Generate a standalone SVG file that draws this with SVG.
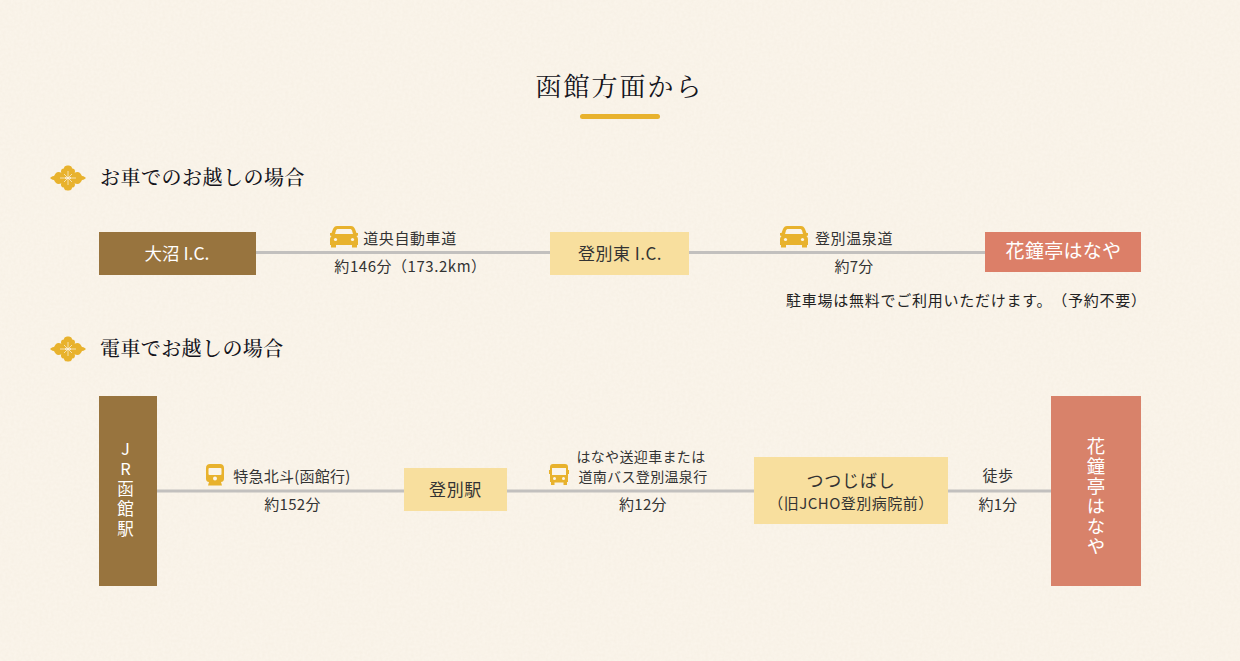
<svg xmlns="http://www.w3.org/2000/svg" width="1240" height="661" viewBox="0 0 1240 661">
<style>
text{font-family:"Noto Sans CJK JP","Noto Sans",sans-serif;fill:#333}
.serif{font-family:"Noto Serif CJK JP","Noto Sans CJK JP",serif;fill:#14141c}
.lbl{font-size:15px;text-anchor:middle;letter-spacing:.6px}
.small{font-size:14px;letter-spacing:.35px}
.time{font-size:15px;text-anchor:middle;letter-spacing:.3px}
.w{fill:#fff;text-anchor:middle}
.node{font-size:17px;text-anchor:middle;letter-spacing:.6px}
.v{writing-mode:vertical-rl;text-orientation:upright;fill:#fff;text-anchor:middle}
.line{stroke:#c2c0be;stroke-width:3;fill:none}
.brown{fill:#98743e}.cream{fill:#f8df9e}.red{fill:#dc7f68}.red2{fill:#d8826a}
.gold{fill:#e8b22d}
.note{fill:#222;font-size:15px;letter-spacing:.75px;text-spacing-trim:space-all}
</style>
<defs>
<filter id="paper" x="0" y="0" width="100%" height="100%">
<feTurbulence type="fractalNoise" baseFrequency="0.35" numOctaves="3" seed="4"/>
<feColorMatrix values="0 0 0 0 0.6  0 0 0 0 0.5  0 0 0 0 0.35  0 0 0 0.1 -0.025"/>
</filter>
<symbol id="mon" viewBox="-18 -13 36 26" overflow="visible">
<g class="gold">
<path d="M-2-1C-6-3-8-6-6.500-9C-5.500-10-5-10-4-10C-4-13-1-13 0-13C1-13 4-13 4-10C5-10 5.500-10 6.500-9C8-6 6-3 2-1Z" transform="translate(0 .5)"/>
<path d="M-2-1C-6-3-8-6-6.500-9C-5.500-10-5-10-4-10C-4-13-1-13 0-13C1-13 4-13 4-10C5-10 5.500-10 6.500-9C8-6 6-3 2-1Z" transform="translate(0 -.5) rotate(180)"/>
<path d="M-3-2C-6-6-10-7-12-5C-13-4-14-2-14-2C-16-2-18 0-18 0C-18 0-16 2-14 2C-14 2-13 4-12 5C-10 7-6 6-3 2Z"/>
<path d="M3-2C6-6 10-7 12-5C13-4 14-2 14-2C16-2 18 0 18 0C18 0 16 2 14 2C14 2 13 4 12 5C10 7 6 6 3 2Z"/>
</g>
<path d="M0-7V7M-8 0H8M-4-4L4 4M-4 4L4-4" stroke="#faf4ea" stroke-width=".7" fill="none"/>
</symbol>
<symbol id="car" viewBox="0 0 28 22" overflow="visible">
<path class="gold" d="M7 0H21C23 0 24 1 25 3L26.500 7H28V9.500L26.500 10C27.500 11 28 12 28 13V19H27V21.500H22V19H6V21.500H1V19H0V13C0 12 .5 11 1.500 10L0 9.500V7H1.500L3 3C4 1 5 0 7 0Z"/>
<path d="M8 3H20C21 3 21.500 3.500 22 4.500L23 8H5L6 4.500C6.500 3.500 7 3 8 3Z" fill="#faf4ea"/>
<circle cx="5.500" cy="13.500" r="1.600" fill="#faf4ea"/><circle cx="22.500" cy="13.500" r="1.600" fill="#faf4ea"/>
</symbol>
<symbol id="train" viewBox="0 0 18 22" overflow="visible">
<path class="gold" d="M4 0H14C16.500 0 18 1.500 18 4V15C18 17 16.500 18 15 18L16 21.500H2L3 18C1.500 18 0 17 0 15V4C0 1.500 1.500 0 4 0Z"/>
<rect x="2.500" y="4" width="13" height="7" rx="1" fill="#faf4ea"/>
<circle cx="9" cy="14.500" r="2" fill="#faf4ea"/>
</symbol>
<symbol id="bus" viewBox="0 0 20 22" overflow="visible">
<path class="gold" d="M4 0H16C18 0 19 1 19 3V6H20V10H19V18H18V21H14.500V18.500H5.500V21H2V18H1V10H0V6H1V3C1 1 2 0 4 0Z"/>
<rect x="3" y="4" width="14" height="7" fill="#faf4ea"/>
<circle cx="5.500" cy="14.500" r="1.500" fill="#faf4ea"/><circle cx="14.500" cy="14.500" r="1.500" fill="#faf4ea"/>
</symbol>
</defs>
<rect width="1240" height="661" fill="#faf4ea"/>
<rect width="1240" height="661" filter="url(#paper)"/>

<g id="title">
<text class="serif" x="619.500" y="96" font-size="26" text-anchor="middle" letter-spacing="2">函館方面から</text>
<rect x="580" y="114" width="80" height="5" rx="2.500" class="gold"/>
</g>
<g id="heading-car">
<use href="#mon" x="50" y="165" width="36" height="26"/>
<text class="serif" x="100" y="185" font-size="20" font-weight="500" letter-spacing=".5">お車でのお越しの場合</text>
</g>
<g id="heading-train">
<use href="#mon" x="50" y="336" width="36" height="26"/>
<text class="serif" x="100" y="356" font-size="20" font-weight="500" letter-spacing=".4">電車でお越しの場合</text>
</g>

<g id="connectors">
<path class="line" d="M256 252.500H550M689 252.500H985"/>
<path class="line" d="M157 491H404M507 491H754M948 491H1051"/>
</g>

<g id="node-onuma"><rect class="brown" x="99" y="232" width="157" height="43"/><text class="w" x="177" y="259.500" font-size="17.500">大沼 I.C.</text></g>
<g id="node-noboribetsu-higashi"><rect class="cream" x="550" y="232" width="139" height="43"/><text class="node" x="620" y="259.500" style="letter-spacing:.5px">登別東 I.C.</text></g>
<g id="node-hanaya-car"><rect class="red" x="985" y="232" width="156" height="40"/><text class="w" x="1063.500" y="258" font-size="19" letter-spacing=".3">花鐘亭はなや</text></g>
<g id="node-jr-hakodate"><rect class="brown" x="99" y="396" width="58" height="190"/><text class="v" x="125.500" y="490.500" font-size="16.500" letter-spacing="3.500">JR函館駅</text></g>
<g id="node-noboribetsu"><rect class="cream" x="404" y="468" width="103" height="43"/><text class="node" x="455.500" y="496">登別駅</text></g>
<g id="node-tsutsuji"><rect class="cream" x="754" y="457" width="194" height="67"/><text class="node" x="851" y="487" style="letter-spacing:.8px">つつじばし</text><text class="lbl" x="851" y="509" style="letter-spacing:.5px">（旧JCHO登別病院前）</text></g>
<g id="node-hanaya-train"><rect class="red2" x="1051" y="396" width="90" height="190"/><text class="v" x="1096" y="497" font-size="18.500" letter-spacing="1.500">花鐘亭はなや</text></g>

<g id="label-expressway">
<use href="#car" x="330" y="226" width="28" height="22"/>
<text class="lbl" x="410" y="244">道央自動車道</text>
<text class="time" x="410.500" y="272" style="letter-spacing:.55px">約146分（173.2km）</text>
</g>
<g id="label-onsen-road">
<use href="#car" x="780" y="226" width="28" height="22"/>
<text class="lbl" x="854" y="244">登別温泉道</text>
<text class="time" x="854" y="272">約7分</text>
</g>
<text id="note" class="note" x="786" y="306">駐車場は無料でご利用いただけます。（予約不要）</text>
<g id="label-hokuto">
<use href="#train" x="206" y="464" width="18" height="22"/>
<text class="lbl" x="292" y="482" style="letter-spacing:.25px">特急北斗(函館行)</text>
<text class="time" x="292.500" y="510">約152分</text>
</g>
<g id="label-bus">
<use href="#bus" x="549" y="464" width="20" height="22"/>
<text class="lbl small" x="641" y="462">はなや送迎車または</text>
<text class="lbl small" x="643" y="482">道南バス登別温泉行</text>
<text class="time" x="643" y="510">約12分</text>
</g>
<g id="label-walk">
<text class="time" x="998" y="481" style="letter-spacing:.6px">徒歩</text>
<text class="time" x="998" y="510">約1分</text>
</g>
</svg>
